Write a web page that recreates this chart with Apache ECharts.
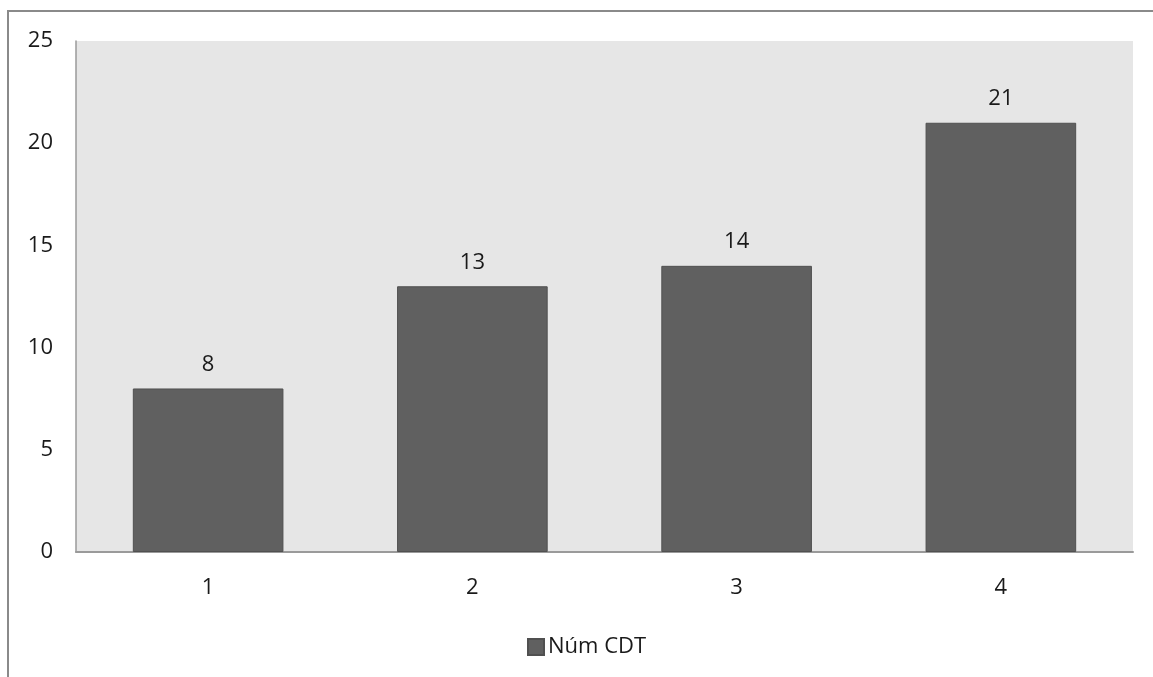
<!DOCTYPE html>
<html>
<head>
<meta charset="utf-8">
<script src="https://cdn.jsdelivr.net/npm/echarts@6/dist/echarts.min.js"></script>
<style>
  html, body { margin: 0; padding: 0; background: #ffffff; }
  #chart { width: 1153px; height: 677px; }
</style>
</head>
<body>
<div id="chart"></div>
<script>
// Category labels along the x axis
const categories = ['1', '2', '3', '4'];
// Number of CDT per category
const numCDT = [8, 13, 14, 21];
// Value axis range
const yMin = 0;
const yMax = 25;
const yStep = 5;
const seriesName = 'Núm CDT';

const FONT = 'Open Sans';
const FS = 22;
const chart = echarts.init(document.getElementById('chart'), null, { renderer: 'canvas' });

chart.setOption({
  backgroundColor: '#ffffff',
  animation: false,
  textStyle: { fontFamily: FONT },
  graphic: [{
    type: 'rect',
    z: -1,
    shape: { x: 8, y: 11, width: 1300, height: 900 },
    style: { fill: 'none', stroke: '#8a8a8a', lineWidth: 2 }
  }],
  grid: {
    left: 76, right: 20, top: 41, bottom: 125,
    show: true,
    backgroundColor: '#e6e6e6',
    borderWidth: 0
  },
  legend: {
    top: 631,
    left: 522,
    itemWidth: 16,
    itemHeight: 16,
    itemGap: 10,
    icon: 'rect',
    textStyle: { fontSize: FS, color: '#1a1a1a', fontFamily: FONT, padding: [0, 0, 0, -1] },
    data: [seriesName]
  },
  xAxis: {
    type: 'category',
    data: categories,
    axisLine: { show: true, lineStyle: { color: '#9a9a9a', width: 2 } },
    axisTick: { show: false },
    axisLabel: { fontSize: FS, color: '#1a1a1a', margin: 25, fontFamily: FONT },
    splitLine: { show: false }
  },
  yAxis: {
    type: 'value',
    min: yMin, max: yMax, interval: yStep,
    axisLine: { show: true, lineStyle: { color: '#9a9a9a', width: 1.5 } },
    axisTick: { show: false },
    axisLabel: { fontSize: FS, color: '#1a1a1a', margin: 23, fontFamily: FONT },
    splitLine: { show: false }
  },
  series: [{
    name: seriesName,
    type: 'bar',
    data: numCDT,
    barWidth: '57%',
    itemStyle: { color: '#606060', borderColor: '#505050', borderWidth: 1 },
    label: {
      show: true,
      position: 'top',
      distance: 13,
      fontSize: FS,
      color: '#1a1a1a',
      fontFamily: FONT
    }
  }]
});
</script>
</body>
</html>
